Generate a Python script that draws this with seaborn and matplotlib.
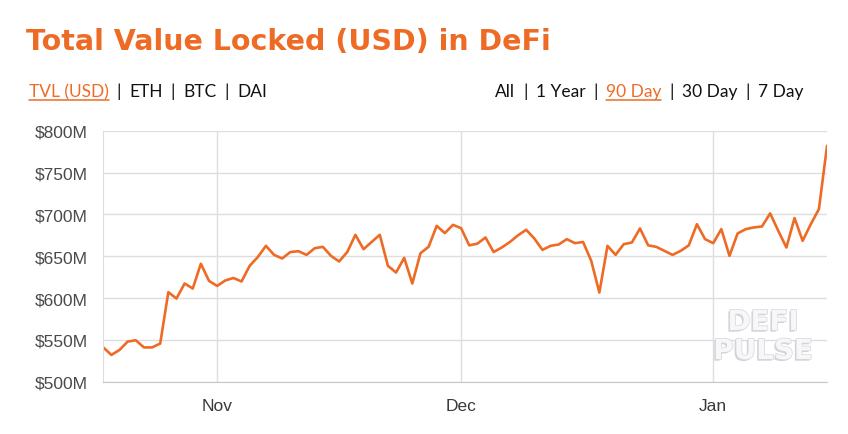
import numpy as np
import pandas as pd
import matplotlib
matplotlib.use("Agg")
import matplotlib.pyplot as plt
import matplotlib.dates as mdates
import matplotlib.patheffects as pe
from matplotlib.lines import Line2D
from matplotlib.ticker import FuncFormatter
import seaborn as sns

# TVL in millions USD, one value per day from Oct 18 to Jan 15
tvl_oct = [541, 532, 538, 548, 549.5, 541, 541, 545.6, 607, 599.4, 617.4, 611.4, 641, 620.5]
tvl_nov = [614.5, 621, 624, 619.8, 638.5, 649, 662.4, 651.6, 647.3, 655,
           656, 651.6, 659.6, 661.2, 650.4, 643.7, 655, 675.6, 658.4, 667,
           675.6, 638.5, 630.5, 648, 617.4, 653.6, 661.2, 686.3, 677.6, 687.5]
tvl_dec = [683.5, 663, 665, 672.4, 655, 660.4, 667, 675, 681.6, 671.2,
           657.6, 662.4, 664, 670.4, 665.6, 667, 644.5, 606.6, 662.4, 651.6,
           664.4, 666.4, 683.2, 663, 661.2, 656.4, 651.6, 656.4, 663, 688.3, 670.4]
tvl_jan = [665.6, 682.4, 650.4, 677.2, 682.4, 684.4, 685.6, 701.2, 680.4, 660.4,
           695.6, 668.4, 688.3, 706.3, 782]
start_date = "2019-10-18"

left_menu = ["TVL (USD)", "ETH", "BTC", "DAI"]
right_menu = ["All", "1 Year", "90 Day", "30 Day", "7 Day"]
left_active = "TVL (USD)"
right_active = "90 Day"

ORANGE = "#ee6b26"
GRID = "#dedede"

values = tvl_oct + tvl_nov + tvl_dec + tvl_jan
df = pd.DataFrame({"date": pd.date_range(start_date, periods=len(values), freq="D"),
                   "tvl": values})

sns.set_style("white")
plt.rcParams["font.family"] = ["Liberation Sans", "DejaVu Sans"]

fig = plt.figure(figsize=(8.48, 4.35), dpi=100)
ax = fig.add_axes([0.1218, 0.1202, 0.9753 - 0.1218, 0.6972 - 0.1202])

sns.lineplot(data=df, x="date", y="tvl", ax=ax, color=ORANGE, linewidth=1.9)

ax.set_xlim(df["date"].iloc[0], df["date"].iloc[-1])
ax.set_ylim(500, 800)
ax.set_yticks(np.arange(500, 801, 50))
ax.yaxis.set_major_formatter(FuncFormatter(lambda v, p: f"${v:.0f}M"))
ax.xaxis.set_major_locator(mdates.MonthLocator())
ax.xaxis.set_major_formatter(mdates.DateFormatter("%b"))
ax.set_xlabel("")
ax.set_ylabel("")

ax.grid(True, color=GRID, linewidth=1)
ax.set_axisbelow(True)
for side in ["top", "right"]:
    ax.spines[side].set_visible(False)
ax.spines["left"].set_color(GRID)
ax.spines["bottom"].set_color("#c8c8c8")
ax.tick_params(axis="y", length=9.5, color=GRID, pad=1.5, labelsize=12.5, labelcolor="#4a4a4a")
ax.tick_params(axis="x", length=10, color=GRID, pad=1.5, labelsize=12.5, labelcolor="#3a3a3a")

# title
fig.text(26 / 848, 1 - 50 / 435, "Total Value Locked (USD) in DeFi", color=ORANGE,
         fontsize=20.5, fontweight="bold", family="DejaVu Sans", va="baseline", ha="left")

# menus
fig.canvas.draw()
renderer = fig.canvas.get_renderer()
menu_y = 1 - 97 / 435


def draw_menu(items, active, x0):
    x = x0
    for i, item in enumerate(items):
        col = ORANGE if item == active else "#111111"
        t = fig.text(x / 848, menu_y, item, color=col, fontsize=12.5, family="Lato",
                     va="baseline", ha="left")
        bb = t.get_window_extent(renderer)
        if item == active:
            fig.add_artist(Line2D([bb.x0 / 848, bb.x1 / 848], [menu_y - 3.5 / 435] * 2,
                                  color=ORANGE, linewidth=1.1, transform=fig.transFigure))
        x = bb.x1
        if i < len(items) - 1:
            s = fig.text((x + 8) / 848, menu_y, "|", color="#111111", fontsize=12.5,
                         family="Lato", va="baseline", ha="left")
            x = s.get_window_extent(renderer).x1 + 8


draw_menu(left_menu, left_active, 29)
draw_menu(right_menu, right_active, 495)

# watermark
wm_fx = [pe.withSimplePatchShadow(offset=(-1.2, -1.2), shadow_rgbFace="#d2d2d8", alpha=1),
         pe.withStroke(linewidth=1.0, foreground="#d6d6dc")]
for word, yc in [("DEFI", 323), ("PULSE", 352)]:
    fig.text(763 / 848, 1 - yc / 435, word, color="#f7f7f9", fontsize=20, fontweight="bold",
             family="DejaVu Sans", ha="center", va="center", path_effects=wm_fx)

fig.savefig("out.png", dpi=100, facecolor="white")
